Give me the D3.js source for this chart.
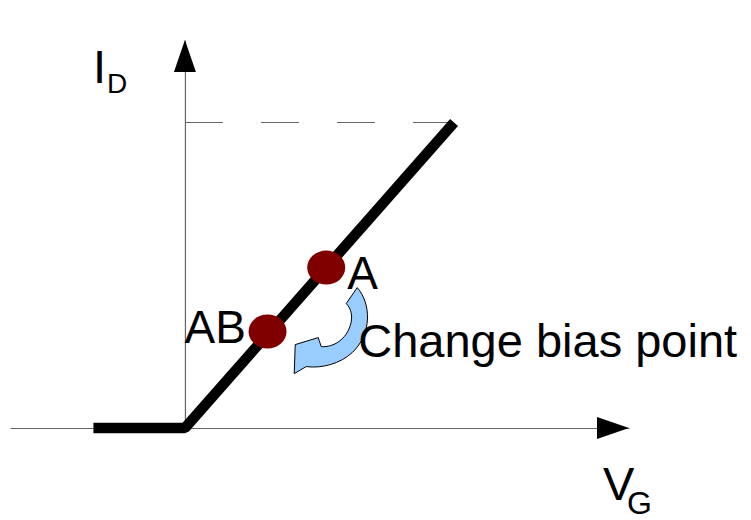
<!DOCTYPE html>
<html>
<head>
<meta charset="utf-8">
<script src="https://cdn.jsdelivr.net/npm/d3@7"></script>
<style>
  body { margin: 0; background: #fff; }
  svg { display: block; font-family: "Liberation Sans", Arial, sans-serif; }
</style>
</head>
<body>
<div id="chart"></div>
<script>
// Transfer characteristic: I_D vs V_G with two bias points

// Axis extents (arbitrary units)
const vgExtent = [-6.5, 16.5];
const idExtent = [0, 12.7];

// Thick transfer curve: off, then linear up to saturation
const curveVG = [-3.4, 0, 10];
const curveID = [0, 0, 10];

// Saturation level (dashed guide)
const satVG = [0, 10];
const satID = 10;

// Bias points
const pointNames = ["AB", "A"];
const pointVG = [3.07, 5.25];
const pointID = [3.16, 5.25];

const annotation = "Change bias point";

{
    const width = 751, height = 520;

    const svg = d3.select("#chart")
        .append("svg")
        .attr("width", width)
        .attr("height", height);

    svg.append("rect").attr("width", width).attr("height", height).attr("fill", "#fff");

    const x = d3.scaleLinear().domain(vgExtent).range([10, 629]);
    const y = d3.scaleLinear().domain(idExtent).range([428, 40]);

    const axisColor = "#666";

    // Axes without ticks
    const xAxis = svg.append("g")
        .attr("transform", `translate(0,${y(0)})`)
        .call(d3.axisBottom(x).tickValues([]).tickSizeOuter(0));
    const yAxis = svg.append("g")
        .attr("transform", `translate(${x(0)},0)`)
        .call(d3.axisLeft(y).tickValues([]).tickSizeOuter(0));
    [xAxis, yAxis].forEach(g => g.select(".domain")
        .attr("stroke", axisColor)
        .attr("stroke-width", 1.2));

    // Arrowheads
    const xTip = x(vgExtent[1]), yTip = y(idExtent[1]);
    svg.append("path")
        .attr("d", `M${xTip},${y(0)} L${xTip - 32},${y(0) - 11} L${xTip - 32},${y(0) + 11} Z`)
        .attr("fill", "#000");
    svg.append("path")
        .attr("d", `M${x(0)},${yTip} L${x(0) - 11},${yTip + 32} L${x(0) + 11},${yTip + 32} Z`)
        .attr("fill", "#000");

    // Dashed saturation line
    svg.append("line")
        .attr("x1", x(satVG[0])).attr("x2", x(satVG[1]))
        .attr("y1", y(satID)).attr("y2", y(satID))
        .attr("stroke", axisColor)
        .attr("stroke-width", 1.2)
        .attr("stroke-dasharray", "38,38");

    // Thick transfer curve
    const line = d3.line().x(d => x(d[0])).y(d => y(d[1]));
    svg.append("path")
        .attr("d", line(d3.zip(curveVG, curveID)))
        .attr("fill", "none")
        .attr("stroke", "#000")
        .attr("stroke-width", 10.5)
        .attr("stroke-linejoin", "bevel")
        .attr("stroke-linecap", "butt");

    // Labels for points
    svg.append("text")
        .attr("x", x(pointVG[0]) - 83).attr("y", y(pointID[0]) + 12)
        .attr("font-size", 46)
        .text(pointNames[0]);
    svg.append("text")
        .attr("x", x(pointVG[1]) + 21).attr("y", y(pointID[1]) + 21)
        .attr("font-size", 46)
        .text(pointNames[1]);

    // Bias point dots
    svg.selectAll(".bias")
        .data(d3.range(pointNames.length))
        .enter()
        .append("ellipse")
        .attr("class", "bias")
        .attr("cx", i => x(pointVG[i]))
        .attr("cy", i => y(pointID[i]))
        .attr("rx", 19)
        .attr("ry", 17)
        .attr("fill", "#800000");

    // Curved arrow, placed relative to point A
    const ax = x(pointVG[1]), ay = y(pointID[1]);
    const arrowPath = `M31,20 C45,36 46,66 26,85 C14,96 -4,101 -20,99
        L-32,106 L-31,77 L-8,70 L-5,79
        C8,80 20,71 24,58 C27,49 25,41 20,36 Z`;
    svg.append("path")
        .attr("transform", `translate(${ax},${ay})`)
        .attr("d", arrowPath)
        .attr("fill", "#99ccff")
        .attr("stroke", "#000")
        .attr("stroke-width", 1);

    svg.append("text")
        .attr("x", ax + 32).attr("y", ay + 89)
        .attr("font-size", 47)
        .text(annotation);

    // Axis titles with subscripts
    svg.append("text").attr("x", 93).attr("y", 83).attr("font-size", 47).text("I");
    svg.append("text").attr("x", 107).attr("y", 93).attr("font-size", 28).text("D");
    svg.append("text").attr("x", 603).attr("y", 500).attr("font-size", 47).text("V");
    svg.append("text").attr("x", 627).attr("y", 514).attr("font-size", 32).text("G");
}
</script>
</body>
</html>
